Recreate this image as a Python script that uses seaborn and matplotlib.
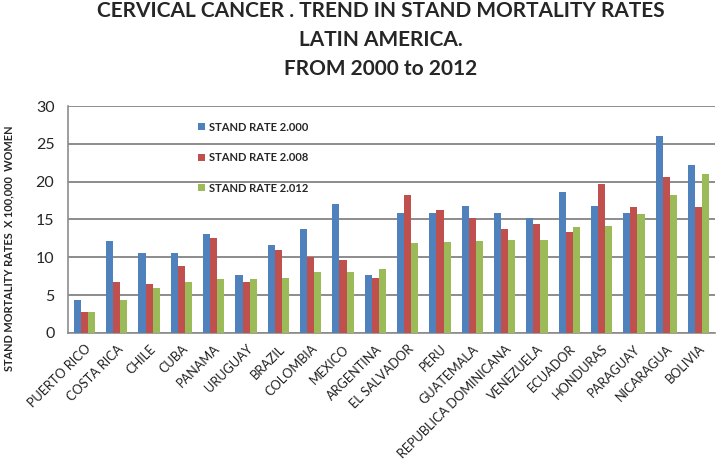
import numpy as np
import pandas as pd
import matplotlib
matplotlib.use("Agg")
import matplotlib.pyplot as plt
import seaborn as sns

# data
countries = ['PUERTO RICO', 'COSTA RICA', 'CHILE', 'CUBA', 'PANAMA', 'URUGUAY',
             'BRAZIL', 'COLOMBIA', 'MEXICO', 'ARGENTINA', 'EL SALVADOR', 'PERU',
             'GUATEMALA', 'REPUBLICA DOMINICANA', 'VENEZUELA', 'ECUADOR',
             'HONDURAS', 'PARAGUAY', 'NICARAGUA', 'BOLIVIA']
rate_2000 = [4.3, 12.1, 10.6, 10.6, 13.1, 7.6, 11.6, 13.7, 17.1, 7.6,
             15.8, 15.8, 16.8, 15.8, 15.2, 18.6, 16.8, 15.8, 26.1, 22.2]
rate_2008 = [2.8, 6.7, 6.5, 8.9, 12.6, 6.8, 10.9, 10.0, 9.7, 7.3,
             18.2, 16.3, 15.2, 13.7, 14.4, 13.3, 19.7, 16.6, 20.6, 16.7]
rate_2012 = [2.8, 4.4, 5.9, 6.7, 7.1, 7.1, 7.3, 8.0, 8.1, 8.4,
             11.9, 12.0, 12.2, 12.3, 12.3, 14.0, 14.1, 15.7, 18.3, 21.0]
series_names = ['STAND RATE 2.000', 'STAND RATE 2.008', 'STAND RATE 2.012']
colors = ['#4F81BD', '#C0504D', '#9BBB59']
title_lines = ['CERVICAL CANCER . TREND IN STAND MORTALITY RATES',
               'LATIN AMERICA.', 'FROM 2000 to 2012']

df = pd.DataFrame({'Country': countries,
                   series_names[0]: rate_2000,
                   series_names[1]: rate_2008,
                   series_names[2]: rate_2012})
long_df = df.melt(id_vars='Country', var_name='Series', value_name='Rate')

sns.set_style("white")
plt.rcParams['font.family'] = ['Lato', 'DejaVu Sans']

fig = plt.figure(figsize=(7.19, 4.65), dpi=100)
ax = fig.add_axes([0.095, 0.284, 0.899, 0.488])

sns.barplot(data=long_df, x='Country', y='Rate', hue='Series',
            palette=colors, width=0.66, ax=ax, saturation=1,
            edgecolor='none', zorder=3)

ax.set_ylim(0, 30)
ax.set_yticks(range(0, 31, 5))
ax.set_xlim(-0.5, len(countries) - 0.5)
ax.yaxis.grid(True, color='#8c8c8c', lw=1.4, zorder=0)
ax.set_axisbelow(True)
for s in ['top', 'right']:
    ax.spines[s].set_visible(False)
for s in ['left', 'bottom']:
    ax.spines[s].set_color('#8c8c8c')
    ax.spines[s].set_linewidth(1.2)

# tick marks between categories
ax.set_xticks(np.arange(-0.5, len(countries), 1), minor=True)
ax.tick_params(axis='x', which='minor', length=5, color='#8c8c8c', width=1)
ax.tick_params(axis='x', which='major', length=0, pad=7)
ax.tick_params(axis='y', length=4, color='#8c8c8c', labelsize=11.5, pad=6)
ax.set_xticklabels(countries, rotation=45, ha='right', rotation_mode='anchor',
                   fontsize=9.2, color='#222222')

ax.set_xlabel('')
ax.set_ylabel('STAND MORTALITY RATES  X 100,000  WOMEN', fontsize=7.9,
              fontweight='bold')
ax.yaxis.set_label_coords(-0.083, 0.375)

leg = ax.legend(loc='upper left', bbox_to_anchor=(0.185, 0.975), frameon=False,
                fontsize=8, handlelength=0.6, handleheight=0.6,
                labelspacing=1.75, handletextpad=0.4)
for t in leg.get_texts():
    t.set_fontweight('bold')

for y, line in zip([0.963, 0.901, 0.839], title_lines):
    fig.text(0.53, y, line, ha='center', va='baseline', fontsize=15,
             fontweight='bold')

fig.savefig('out.png', dpi=100)
